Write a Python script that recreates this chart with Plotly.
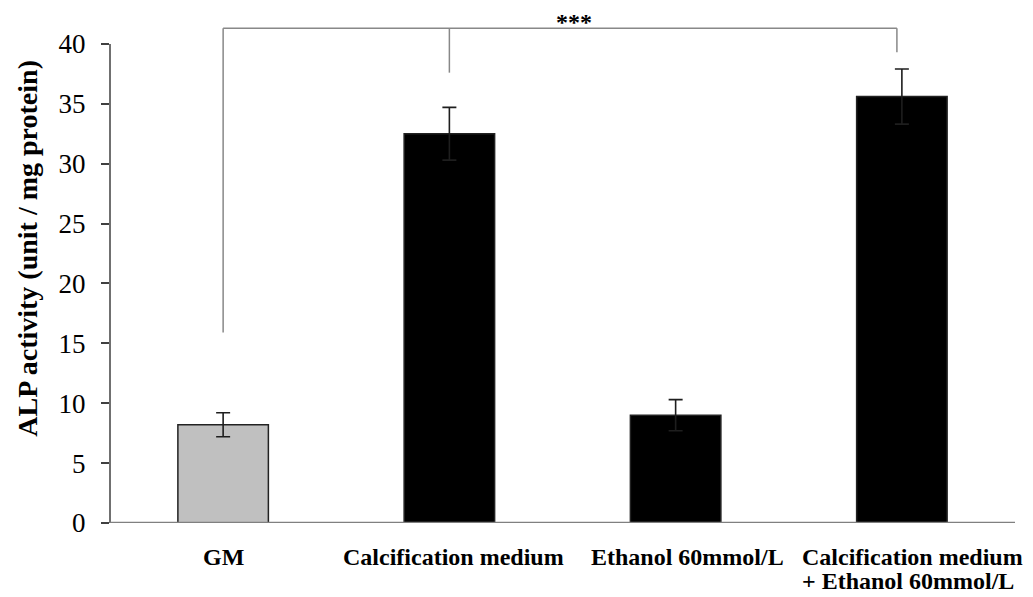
import plotly.graph_objects as go

categories = ["GM", "Calcification medium", "Ethanol 60mmol/L", "Calcification medium + Ethanol 60mmol/L"]
labels = ["GM", "Calcification medium", "Ethanol 60mmol/L", "Calcification medium<br>+ Ethanol 60mmol/L"]
values = [8.2, 32.5, 9.0, 35.6]
errors = [1.0, 2.2, 1.3, 2.3]
bar_colors = ["#c0c0c0", "#000000", "#000000", "#000000"]
y_ticks = [0, 5, 10, 15, 20, 25, 30, 35, 40]
y_title = "ALP activity (unit / mg protein)"
sig_label = "***"
bracket_top = 41.3
bracket_drops = [15.9, 37.6, 39.3]  # lower ends of bracket legs: GM, Calcification, Combined

FONT = "Liberation Serif, Times New Roman, serif"

fig = go.Figure()
fig.add_trace(go.Bar(
    x=categories, y=values,
    marker=dict(color=bar_colors, line=dict(color="#222222", width=1.5)),
    error_y=dict(type="data", array=errors, symmetric=True, color="#1e1e1e", thickness=1.6, width=7),
    width=0.4,
))

# axis line of y (only 0..40)
fig.add_shape(type="line", xref="paper", yref="y", x0=0, x1=0, y0=-0.4, y1=y_ticks[-1],
              line=dict(color="#404040", width=1.5))
# x axis line
fig.add_shape(type="line", xref="paper", yref="y", x0=0, x1=1, y0=0, y1=0,
              line=dict(color="#808080", width=2.5))

# significance bracket
leg_x = [categories[0], categories[1], categories[3]]
fig.add_shape(type="line", xref="x", yref="y", x0=categories[0], x1=categories[3],
              x1shift=-0.022,
              y0=bracket_top, y1=bracket_top, line=dict(color="#888888", width=1.5))
for i, (cx, yd) in enumerate(zip(leg_x, bracket_drops)):
    sh = -0.022 if i == 2 else 0
    fig.add_shape(type="line", xref="x", yref="y", x0=cx, x1=cx, y0=yd, y1=bracket_top,
                  x0shift=sh, x1shift=sh,
                  line=dict(color="#888888", width=1.5))
fig.add_annotation(x=1.55, y=bracket_top, xref="x", yref="y", text="<b>" + sig_label + "</b>",
                   showarrow=False, yanchor="bottom", yshift=-9,
                   font=dict(family=FONT, size=24, color="#000000"))

# x labels (multi-line labels are laid out line by line, left aligned)
shifts = [0, 4, 12, 14]
for c, lab, s in zip(categories, labels, shifts):
    lines = lab.split("<br>")
    for k, line in enumerate(lines):
        if len(lines) > 1:
            fig.add_annotation(x=c, y=0, xref="x", yref="y", text="<b>" + line + "</b>",
                               showarrow=False, yanchor="top", xanchor="left",
                               yshift=-19 - 24 * k, xshift=-102,
                               font=dict(family=FONT, size=24, color="#000000"))
        else:
            fig.add_annotation(x=c, y=0, xref="x", yref="y", text="<b>" + line + "</b>",
                               showarrow=False, yanchor="top", yshift=-19, xshift=s,
                               font=dict(family=FONT, size=24, color="#000000"))

# y title
fig.add_annotation(x=0, y=22.9, xref="paper", yref="y", text="<b>" + y_title + "</b>", showarrow=False,
                   textangle=-90, xanchor="center", xshift=-82,
                   font=dict(family=FONT, size=28, color="#000000"))

fig.update_layout(
    width=1033, height=597,
    margin=dict(l=110, r=18, t=2, b=74),
    plot_bgcolor="white", paper_bgcolor="white",
    showlegend=False,
    xaxis=dict(range=[-0.5, 3.5], showticklabels=False, showline=False, showgrid=False,
               zeroline=False, ticks=""),
    yaxis=dict(range=[0, 43.5], tickvals=y_ticks, ticktext=[str(t) for t in y_ticks],
               ticks="outside", ticklen=8, tickwidth=1.5, tickcolor="#404040",
               showline=False, showgrid=False, zeroline=False,
               ticklabelstandoff=10,
               tickfont=dict(family=FONT, size=27, color="#000000")),
)

fig.write_html("out.html")
